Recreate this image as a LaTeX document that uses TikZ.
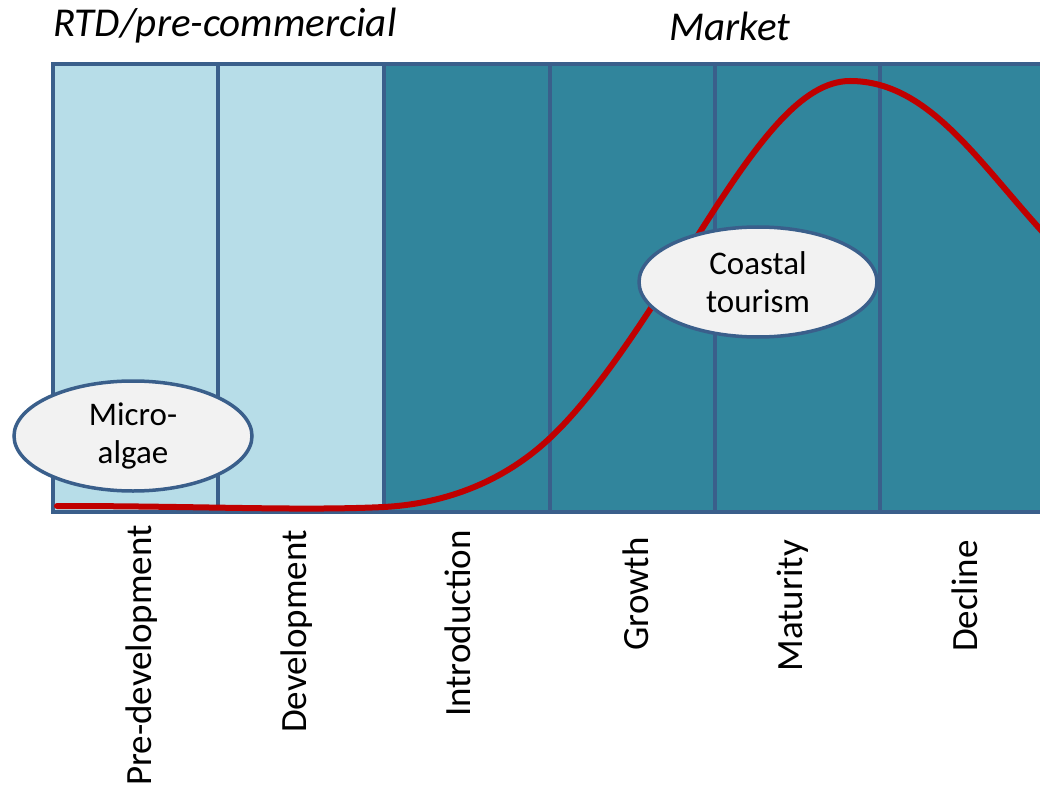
\documentclass[tikz,border=0pt]{standalone}
\usepackage{fontspec}
\setmainfont{Carlito}
\usetikzlibrary{shapes.geometric}
\definecolor{lightaqua}{HTML}{B7DDE8}
\definecolor{darkaqua}{HTML}{31859C}
\definecolor{edgeblue}{HTML}{3A5F8B}
\definecolor{curvered}{HTML}{C00000}
\definecolor{bubblefill}{HTML}{F2F2F2}
\tikzset{
  colbox/.style={draw=edgeblue, line width=3.5pt},
  title/.style={font=\fontsize{41}{48}\selectfont\itshape, inner sep=0pt},
  stagelabel/.style={font=\fontsize{37}{44}\selectfont, rotate=90, anchor=east, inner sep=0pt},
  bubble/.style={ellipse, draw=edgeblue, line width=3.5pt, fill=bubblefill,
    minimum width=238pt, minimum height=110pt, inner sep=0pt, align=center,
    font=\fontsize{33}{38}\selectfont},
  lifecurve/.style={draw=curvered, line width=6pt, line cap=round}
}
\begin{document}
\begin{tikzpicture}[x=1pt,y=-1pt]
\useasboundingbox (0,0) rectangle (1040,791);
\clip (0,0) rectangle (1040,791);
% columns
\draw[colbox, fill=lightaqua] (53,64) rectangle (218,512);
\draw[colbox, fill=lightaqua] (218,64) rectangle (384,512);
\draw[colbox, fill=darkaqua] (384,64) rectangle (550,512);
\draw[colbox, fill=darkaqua] (550,64) rectangle (715,512);
\draw[colbox, fill=darkaqua] (715,64) rectangle (880,512);
\draw[colbox, fill=darkaqua] (880,64) rectangle (1050,512);
% titles
\node[title] (t1) at (225,26) {RTD/pre-commercial};
\node[title] (t2) at (730,26) {Market};
% curve
\draw[lifecurve] (57,506) .. controls (200,506) and (300,511) .. (384,507)
  .. controls (440,504) and (500,485) .. (550,438)
  .. controls (600,391) and (650,310) .. (700,232)
  .. controls (757,142) and (802,81) .. (850,81)
  .. controls (930,81) and (980,165) .. (1050,240);
% bubbles
\node[bubble] (micro) at (133,436) {Micro-\\algae};
\node[bubble] (coast) at (758,282) {Coastal\\tourism};
% stage labels
\node[stagelabel] (s1) at (142,525) {Pre-development};
\node[stagelabel] (s2) at (297,530) {Development};
\node[stagelabel] (s3) at (458,530) {Introduction};
\node[stagelabel] (s4) at (636,537) {Growth};
\node[stagelabel] (s5) at (793,540) {Maturity};
\node[stagelabel] (s6) at (965,540) {Decline};
\end{tikzpicture}
\end{document}
